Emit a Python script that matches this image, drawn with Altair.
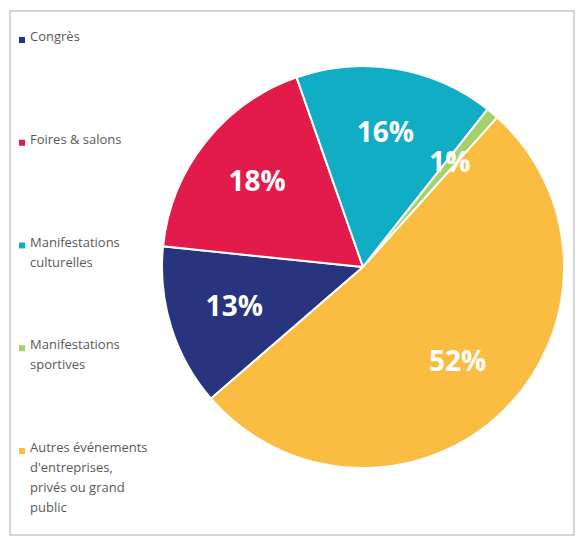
import math
import altair as alt
import pandas as pd

categories = ["Congrès", "Foires & salons", "Manifestations culturelles",
              "Manifestations sportives", "Autres événements d'entreprises, privés ou grand public"]
legend_labels = ["Congrès", "Foires & salons", "Manifestations\nculturelles",
                 "Manifestations\nsportives", "Autres événements\nd'entreprises,\nprivés ou grand\npublic"]
values = [13, 18, 16, 1, 52]
labels = ["13%", "18%", "16%", "1%", "52%"]
colors = ["#29347F", "#E31B4B", "#10ADC5", "#A5D16B", "#FABC41"]

df = pd.DataFrame({
    "cat": categories,
    "legend": legend_labels,
    "value": values,
    "label": labels,
    "idx": list(range(len(categories))),
})

start = math.radians(229.1)
theta_scale = alt.Scale(range=[start, start + 2 * math.pi])
color = alt.Color("cat:N", scale=alt.Scale(domain=categories, range=colors), legend=None)

base = alt.Chart(df)

cx, cy = 353, 256

pie = base.mark_arc(outerRadius=201, stroke="white", strokeWidth=2).encode(
    theta=alt.Theta("value:Q", stack=True, scale=theta_scale),
    color=color,
    order=alt.Order("idx:Q"),
    x=alt.value(cx), y=alt.value(cy),
)

pct = base.mark_text(radius=135, font="Open Sans", fontSize=28, fontWeight="bold",
                     color="white").encode(
    theta=alt.Theta("value:Q", stack=True, scale=theta_scale),
    order=alt.Order("idx:Q"),
    text="label:N",
    x=alt.value(cx), y=alt.value(cy),
)

ypos = alt.Y("cat:N", scale=alt.Scale(type="point", domain=categories, range=[29, 440], padding=0), axis=None)

leg_sym = base.mark_square(size=36, opacity=1).encode(
    x=alt.value(12), y=ypos, color=color,
)
leg_txt = base.mark_text(align="left", baseline="top", dy=-9, lineBreak="\n", lineHeight=20,
                         font="Open Sans", fontSize=13, color="#595959").encode(
    x=alt.value(20), y=ypos, text="legend:N",
)

chart = alt.layer(pie, pct, leg_sym, leg_txt).properties(
    width=564, height=524,
    padding={"left": 10, "top": 11, "right": 3, "bottom": 3},
    autosize=alt.AutoSizeParams(type="none"),
).configure_view(stroke="#C8C8C8", strokeWidth=1.5)

chart.save("out.html", embed_options={"renderer": "svg", "actions": False})
